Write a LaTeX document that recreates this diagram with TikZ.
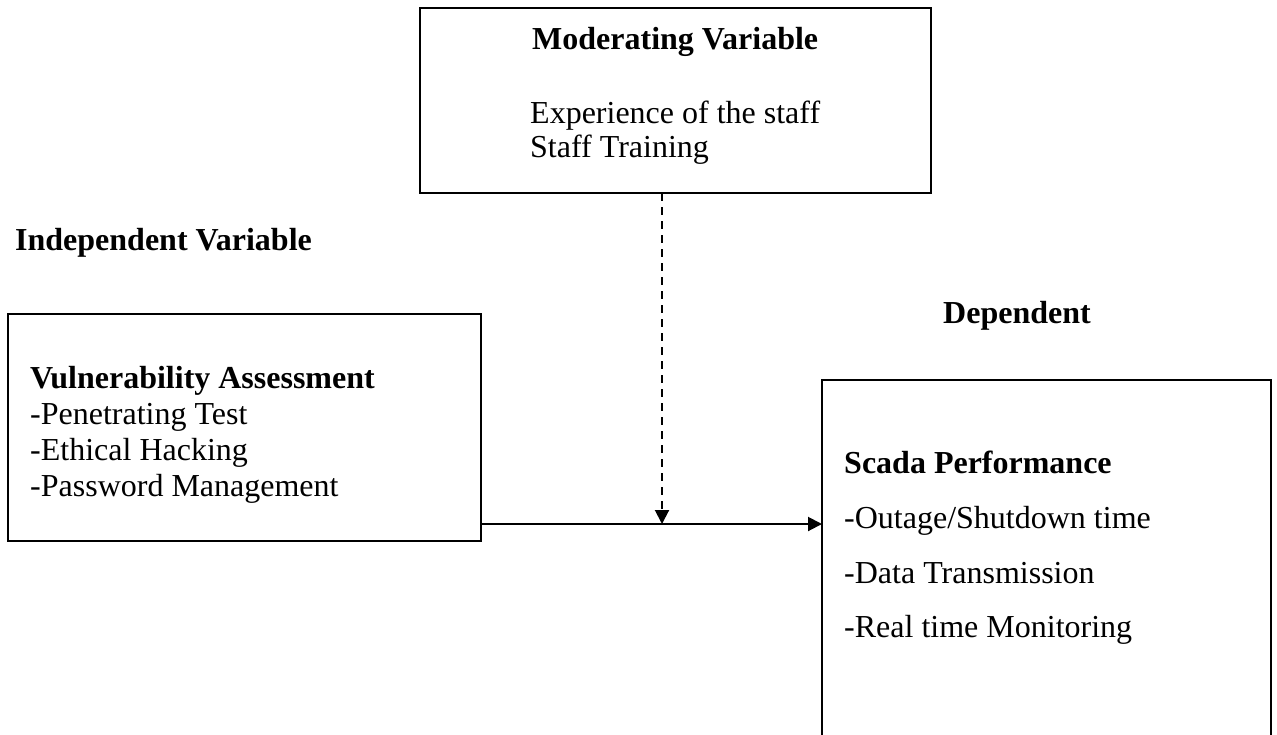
\documentclass[tikz,border=0pt]{standalone}
\usepackage{fontspec}
\setmainfont{Liberation Serif}
\usetikzlibrary{arrows.meta}
\begin{document}
\begin{tikzpicture}[x=1pt,y=-1pt,
  box/.style={draw, line width=2pt, inner sep=0pt, outer sep=0pt, anchor=north west},
  txt/.style={anchor=base west, inner sep=0pt, font=\fontsize{32}{36}\selectfont},
  hd/.style={anchor=base west, inner sep=0pt, font=\fontsize{32}{36}\selectfont\bfseries},
  tip/.style={-{Triangle[length=14pt,width=14pt]}, line width=2pt}]
\clip (0,0) rectangle (1277,734);
% boxes
\node[box, minimum width=511pt, minimum height=185pt] (mod) at (420,8) {};
\node[box, minimum width=473pt, minimum height=227pt] (ind) at (8,314) {};
\node[box, minimum width=449pt, minimum height=420pt] (dep) at (822,380) {};
% texts
\node[hd] (modh) at (532,49) {Moderating Variable};
\node[txt] (mod1) at (530,123) {Experience of the staff};
\node[txt] (mod2) at (530,157) {Staff Training};
\node[hd] (indlab) at (15,250) {Independent Variable};
\node[hd] (deplab) at (943,323) {Dependent};
\node[hd] (indh) at (30,388) {Vulnerability Assessment};
\node[txt] (ind1) at (30,424) {-Penetrating Test};
\node[txt] (ind2) at (30,460) {-Ethical Hacking};
\node[txt] (ind3) at (30,496) {-Password Management};
\node[hd] (deph) at (844,473) {Scada Performance};
\node[txt] (dep1) at (844,528) {-Outage/Shutdown time};
\node[txt] (dep2) at (844,583) {-Data Transmission};
\node[txt] (dep3) at (844,637) {-Real time Monitoring};
% connectors
\coordinate (ind-out) at (481,524);
\coordinate (dep-in) at (822,524);
\coordinate (meet) at (662,524);
\draw[tip] (ind-out) -- (dep-in);
\draw[tip, dash pattern=on 8pt off 6pt] (mod.south -| meet) -- (meet);
\end{tikzpicture}
\end{document}
